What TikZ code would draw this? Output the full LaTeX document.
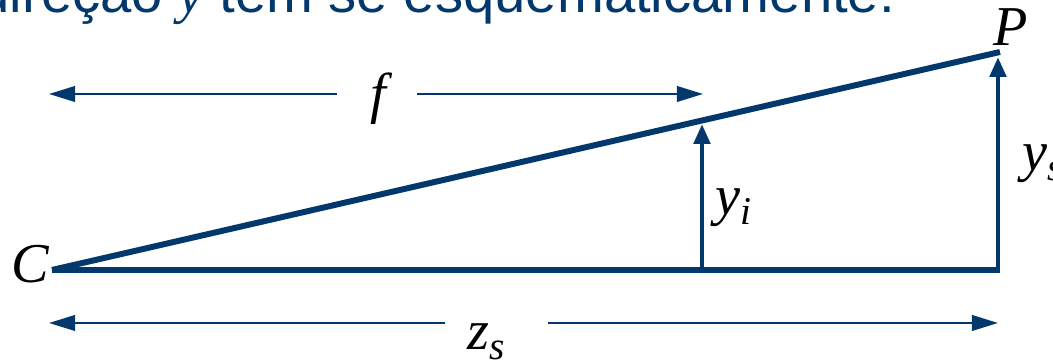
\documentclass[tikz,border=0pt]{standalone}
\usepackage{fontspec}
\usepackage{tikz}
\usetikzlibrary{arrows.meta,calc}
\newfontfamily\headfont{Liberation Sans}
\newfontfamily\labelfont{Liberation Serif}
\definecolor{diagblue}{RGB}{2,56,108}

\begin{document}
\begin{tikzpicture}[x=0.01cm,y=-0.01cm,
  lbl/.style={inner sep=0pt,font=\labelfont\itshape\fontsize{16}{19}\selectfont},
  ray/.style={diagblue,line width=1.7pt},
  height arrow/.style={diagblue,line width=1.4pt,-{Triangle[length=2mm,width=1.6mm]}},
  dim arrow/.style={diagblue,line width=0.65pt,-{Triangle[length=2.6mm,width=1.55mm]}}]
\useasboundingbox (0,0) rectangle (1053,362);
\node[anchor=base west,inner sep=0pt,text=diagblue,font=\headfont\fontsize{16}{19}\selectfont] (head) at (-22,13) {direção {\labelfont\itshape y} tem se esquematicamente:};
\coordinate (C) at (52,270);
\coordinate (P) at (1000,52);
\coordinate (B) at (1000,270);
\coordinate (yib) at (702,270);
\coordinate (yit) at (702,124);
\coordinate (ysb) at (998,272);
\coordinate (yst) at (998,57);
\draw[ray] (C) -- (B);
\draw[ray] (C) -- (P);
\draw[height arrow] (yib) -- (yit);
\draw[height arrow] (ysb) -- (yst);
\node[lbl] (lC) at (30,264) {C};
\node[lbl] (lP) at (1011,27) {P};
\node[lbl,anchor=base west] (yi) at (715,215) {y\textsubscript{i}};
\node[lbl,anchor=base west] (ys) at (1022,171) {y\textsubscript{s}};
\node[lbl,anchor=base] (f) at (378,113) {f};
\node[lbl,anchor=base west] (zs) at (467,350) {z\textsubscript{s}};
\coordinate (fl) at (49,94);
\coordinate (fr) at (703,94);
\coordinate (fgl) at (337,94);
\coordinate (fgr) at (417,94);
\draw[dim arrow] (fgl) -- (fl);
\draw[dim arrow] (fgr) -- (fr);
\coordinate (zl) at (49,323);
\coordinate (zr) at (998,323);
\coordinate (zgl) at (445,323);
\coordinate (zgr) at (548,323);
\draw[dim arrow] (zgl) -- (zl);
\draw[dim arrow] (zgr) -- (zr);
\end{tikzpicture}
\end{document}
